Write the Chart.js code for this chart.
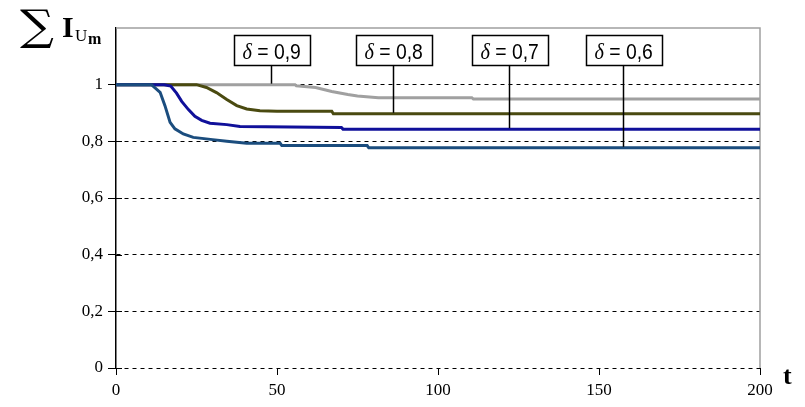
<!DOCTYPE html>
<html>
<head>
<meta charset="utf-8">
<script src="https://cdn.jsdelivr.net/npm/chart.js@4.4.1/dist/chart.umd.min.js"></script>
<style>
  html, body { margin: 0; padding: 0; background: #fff; }
  #wrap { width: 805px; height: 407px; }
</style>
</head>
<body>
<div id="wrap"><canvas id="chart" width="805" height="407"></canvas></div>
<script>
/* Sum of I_Um over t for four values of delta */
const xTicks = [0, 50, 100, 150, 200];
const yTicks = [0, 0.2, 0.4, 0.6, 0.8, 1, 1.2];

const tDelta06 = [0, 11, 13.7, 15.2, 16.8, 18.3, 20.9, 24, 30, 34.4, 40.6, 51, 51.5, 78, 78.5, 200];
const vDelta06 = [1, 1, 0.973, 0.926, 0.867, 0.844, 0.826, 0.814, 0.806, 0.8, 0.793, 0.793, 0.785, 0.785, 0.777, 0.777];

const tDelta07 = [0, 15, 17, 18.8, 20.4, 22.5, 24.5, 26.6, 29.2, 34.4, 38.5, 70, 70.5, 200];
const vDelta07 = [1, 1, 0.995, 0.97, 0.941, 0.912, 0.888, 0.874, 0.864, 0.859, 0.852, 0.849, 0.843, 0.843];

const tDelta08 = [0, 25, 28.1, 31.2, 34.4, 37.5, 40.6, 44.7, 50, 67, 67.5, 200];
const vDelta08 = [1, 1, 0.99, 0.972, 0.948, 0.926, 0.914, 0.908, 0.906, 0.906, 0.897, 0.897];

const tDelta09 = [0, 55.6, 56, 62, 67, 72, 75, 81.5, 110.5, 111, 200];
const vDelta09 = [1, 1, 0.996, 0.99, 0.976, 0.965, 0.96, 0.954, 0.954, 0.949, 0.949];

// callout labels and the t where each leader line meets its curve
const calloutDelta = ['0,9', '0,8', '0,7', '0,6'];
const calloutT = [48, 86, 122, 157.5];
const calloutBoxTop = 1.176;
const calloutBoxBottom = 1.07;

const seriesColors = ['#1b4d7e', '#10109a', '#4a4a10', '#a0a0a0'];

const toPoints = (ts, vs) => ts.map((t, i) => ({ x: t, y: vs[i] }));

// value of a series at t, linear between read points
function valueAt(ts, vs, t) {
    for (let i = 1; i < ts.length; i++) {
        if (t <= ts[i]) {
            const f = (t - ts[i - 1]) / (ts[i] - ts[i - 1] || 1);
            return vs[i - 1] + f * (vs[i] - vs[i - 1]);
        }
    }
    return vs[vs.length - 1];
}

const calloutSeries = [[tDelta09, vDelta09], [tDelta08, vDelta08], [tDelta07, vDelta07], [tDelta06, vDelta06]];

const decorations = {
    id: 'decorations',
    beforeDatasetsDraw(chart) {
        const { ctx, chartArea: a, scales } = chart;
        ctx.save();
        // grey frame top and right
        ctx.strokeStyle = '#a0a0a0';
        ctx.lineWidth = 1.5;
        ctx.beginPath();
        ctx.moveTo(a.left, a.top);
        ctx.lineTo(a.right, a.top);
        ctx.lineTo(a.right, a.bottom);
        ctx.stroke();
        // inner half of y tick marks
        ctx.strokeStyle = '#000';
        ctx.lineWidth = 1;
        yTicks.slice(0, -1).forEach(v => {
            const y = Math.round(scales.y.getPixelForValue(v)) + 0.5;
            ctx.beginPath();
            ctx.moveTo(a.left, y);
            ctx.lineTo(a.left + 6, y);
            ctx.stroke();
        });
        ctx.restore();
    },
    afterDatasetsDraw(chart) {
        const { ctx, scales } = chart;
        ctx.save();
        const yTop = scales.y.getPixelForValue(calloutBoxTop);
        const yBot = scales.y.getPixelForValue(calloutBoxBottom);
        const sx = 0.88; // narrow the box text a bit
        calloutDelta.forEach((label, i) => {
            const [ts, vs] = calloutSeries[i];
            const x = Math.round(scales.x.getPixelForValue(calloutT[i])) + 0.5;
            const yEnd = scales.y.getPixelForValue(valueAt(ts, vs, calloutT[i])) - 1;
            // leader
            ctx.strokeStyle = '#000';
            ctx.lineWidth = 1.5;
            ctx.beginPath();
            ctx.moveTo(x, yBot);
            ctx.lineTo(x, yEnd);
            ctx.stroke();
            ctx.font = 'italic 23px "Liberation Serif"';
            const wd = ctx.measureText('δ').width;
            ctx.font = '22px "Liberation Sans"';
            const rest = ' = ' + label;
            const wr = ctx.measureText(rest).width;
            const boxW = Math.round((wd + wr) * sx + 18);
            const left = Math.round(x - boxW / 2) + 0.5;
            ctx.fillStyle = '#fff';
            ctx.fillRect(left, yTop, boxW, yBot - yTop);
            ctx.strokeRect(left, Math.round(yTop) + 0.5, boxW, Math.round(yBot - yTop));
            ctx.fillStyle = '#000';
            ctx.textBaseline = 'alphabetic';
            ctx.textAlign = 'left';
            const base = yBot - 6;
            ctx.save();
            ctx.translate(left + 8, base);
            ctx.scale(sx, 1);
            ctx.font = 'italic 23px "Liberation Serif"';
            ctx.fillText('δ', 0, 0);
            ctx.font = '22px "Liberation Sans"';
            ctx.fillText(rest, wd, 0);
            ctx.restore();
        });
        ctx.restore();
    },
    afterDraw(chart) {
        const { ctx } = chart;
        ctx.save();
        ctx.fillStyle = '#000';
        ctx.textAlign = 'left';
        ctx.textBaseline = 'alphabetic';
        // y axis title: sum I_Um
        ctx.font = '50px "DejaVu Serif"';
        ctx.save();
        ctx.translate(20, 40);
        ctx.scale(0.95, 0.85);
        ctx.fillText('∑', 0, 0);
        ctx.restore();
        ctx.font = 'bold 30px "Liberation Serif"';
        ctx.fillText('I', 62, 37);
        ctx.font = '17px "Liberation Serif"';
        ctx.fillText('U', 75, 41);
        ctx.font = 'bold 16px "Liberation Serif"';
        ctx.fillText('m', 88, 44);
        // x axis title
        ctx.font = 'bold 26px "Liberation Serif"';
        ctx.fillText('t', 783, 384);
        ctx.restore();
    },
};

const lineStyle = (color) => ({
    borderColor: color,
    backgroundColor: color,
    borderWidth: 3,
    pointRadius: 0,
    tension: 0,
    fill: false,
});

new Chart(document.getElementById('chart'), {
    type: 'line',
    data: {
        datasets: [
            { label: 'δ = 0,6', data: toPoints(tDelta06, vDelta06), ...lineStyle(seriesColors[0]) },
            { label: 'δ = 0,7', data: toPoints(tDelta07, vDelta07), ...lineStyle(seriesColors[1]) },
            { label: 'δ = 0,8', data: toPoints(tDelta08, vDelta08), ...lineStyle(seriesColors[2]) },
            { label: 'δ = 0,9', data: toPoints(tDelta09, vDelta09), ...lineStyle(seriesColors[3]) },
        ],
    },
    options: {
        responsive: false,
        animation: false,
        layout: { padding: { top: 28, right: 45, left: 0, bottom: 0 } },
        plugins: {
            legend: { display: false },
            tooltip: { enabled: false },
        },
        scales: {
            x: {
                type: 'linear',
                min: 0,
                max: 200,
                afterFit: (s) => { s.height = 39; },
                afterBuildTicks: (s) => { s.ticks = xTicks.map(v => ({ value: v })); },
                ticks: {
                    color: '#000',
                    font: { family: 'Liberation Serif', size: 17 },
                    padding: 5,
                    maxRotation: 0,
                },
                grid: { drawOnChartArea: false, tickLength: 7, tickColor: '#000', tickWidth: 1 },
                border: { display: false },
            },
            y: {
                min: 0,
                max: 1.2,
                afterFit: (s) => { s.width = 116; },
                afterBuildTicks: (s) => { s.ticks = yTicks.map(v => ({ value: v })); },
                ticks: {
                    color: '#000',
                    font: { family: 'Liberation Serif', size: 17 },
                    padding: 5,
                    callback: (v) => (v > 1.1 ? '' : String(Math.round(v * 10) / 10).replace('.', ',')),
                },
                grid: {
                    color: (c) => (c.tick && c.tick.value > 1.1 ? 'rgba(0,0,0,0)' : '#000'),
                    tickColor: (c) => (c.tick && c.tick.value > 1.1 ? 'rgba(0,0,0,0)' : '#000'),
                    tickLength: 8,
                    lineWidth: 1,
                },
                border: { display: true, color: '#000', width: 1.5, dash: [4, 4] },
            },
        },
    },
    plugins: [decorations],
});
</script>
</body>
</html>
